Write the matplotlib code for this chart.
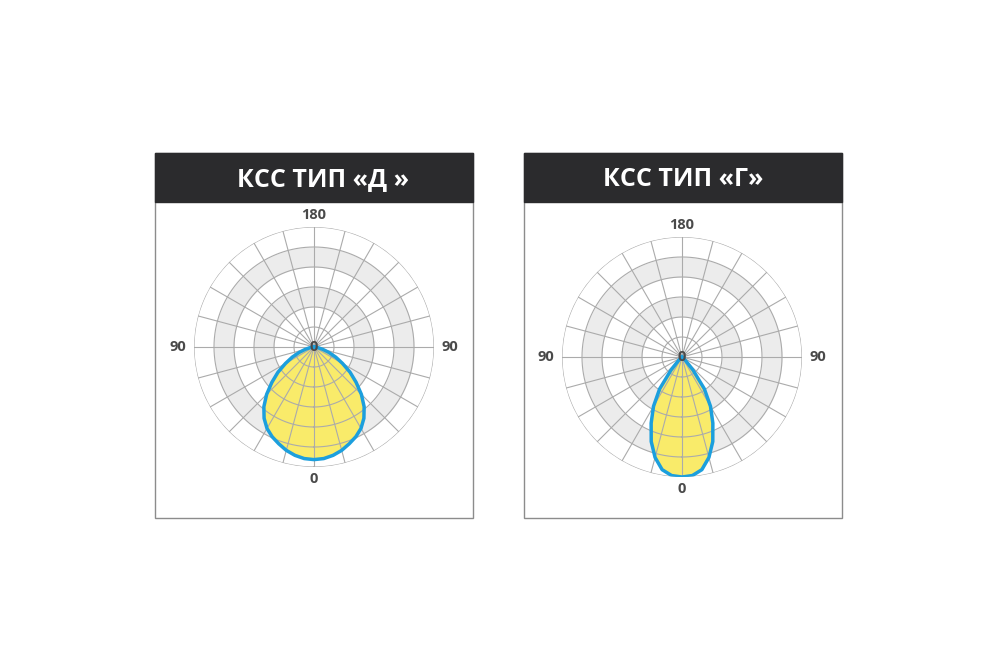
import numpy as np
import matplotlib.pyplot as plt
from matplotlib.patches import Rectangle

# luminous intensity curves, half profile (symmetric), in ring units (6 rings)
angles = [0, 5, 10, 15, 20, 25, 30, 35, 40, 45, 50, 55, 60, 65, 70, 75, 80, 85, 90]
kss_d = [5.63, 5.6, 5.5, 5.35, 5.15, 4.95, 4.7, 4.35, 3.9, 3.35, 2.75, 2.2, 1.65, 1.2, 0.78, 0.45, 0.22, 0.08, 0.0]
kss_g = [6.0, 5.95, 5.72, 5.2, 4.5, 3.65, 2.85, 1.95, 0.85, 0.25, 0.0, 0.0, 0.0, 0.0, 0.0, 0.0, 0.0, 0.0, 0.0]
titles = ["КСС ТИП «Д »", "КСС ТИП «Г»"]
ring_labels = ["180", "90", "90", "0", "0"]

W, H = 1000, 667
fig = plt.figure(figsize=(W / 100, H / 100), dpi=100)


def frac(x0, y0, w, h):
    return [x0 / W, 1 - (y0 + h) / H, w / W, h / H]


def panel(x0, cx, cy, title, values, title_x):
    # frame and header
    fig.add_artist(Rectangle((x0 / W, 1 - 518 / H), 318 / W, 365 / H, transform=fig.transFigure,
                             facecolor="white", edgecolor="#8c8c8c", lw=1.0, zorder=0))
    fig.add_artist(Rectangle((x0 / W, 1 - 202 / H), 318 / W, 49 / H, transform=fig.transFigure,
                             facecolor="#2b2b2d", edgecolor="#2b2b2d", lw=1.0, zorder=1))
    fig.text(title_x / W, 1 - 180 / H, title, color="white", fontsize=18, fontweight="bold",
             family=["Open Sans", "DejaVu Sans"], ha="center", va="center")

    ax = fig.add_axes(frac(cx - 120, cy - 120, 240, 240), projection="polar")
    ax.set_theta_zero_location("S")
    ax.set_ylim(0, 6)
    ax.set_axis_off()

    circ = np.linspace(0, 2 * np.pi, 721)
    for lo in (2, 4):
        ax.fill_between(circ, lo, lo + 1, color="#ececec", lw=0, zorder=1)

    a = np.deg2rad(angles)
    v = np.array(values)
    theta = np.concatenate([-a[::-1], a[1:]])
    r = np.concatenate([v[::-1], v[1:]])
    ax.fill(theta, r, color="#f9eb6a", lw=0, zorder=2)

    for rr in range(1, 7):
        ax.plot(circ, np.full_like(circ, rr), color="#ababab", lw=0.8, zorder=3)
    for t in range(0, 360, 15):
        ax.plot([np.deg2rad(t)] * 2, [0, 6], color="#ababab", lw=0.8, zorder=3)

    ax.plot(theta, r, color="#1c9fdd", lw=2.5, zorder=4, solid_joinstyle="round")

    kw = dict(color="#4a4a4a", fontsize=10.5, fontweight="bold", family=["Open Sans", "DejaVu Sans"],
              ha="center", va="center", clip_on=False, zorder=5)
    ax.text(np.pi, 6.6, ring_labels[0], **kw)
    ax.text(np.pi / 2, 6.8, ring_labels[1], **kw)
    ax.text(-np.pi / 2, 6.8, ring_labels[2], **kw)
    ax.text(0, 6.58, ring_labels[3], **kw)
    ax.text(0, 0, ring_labels[4], **kw)


panel(155, 314, 347, titles[0], kss_d, 323)
panel(524, 682, 357, titles[1], kss_g, 683)

fig.savefig("out.png", dpi=100, facecolor="white")
